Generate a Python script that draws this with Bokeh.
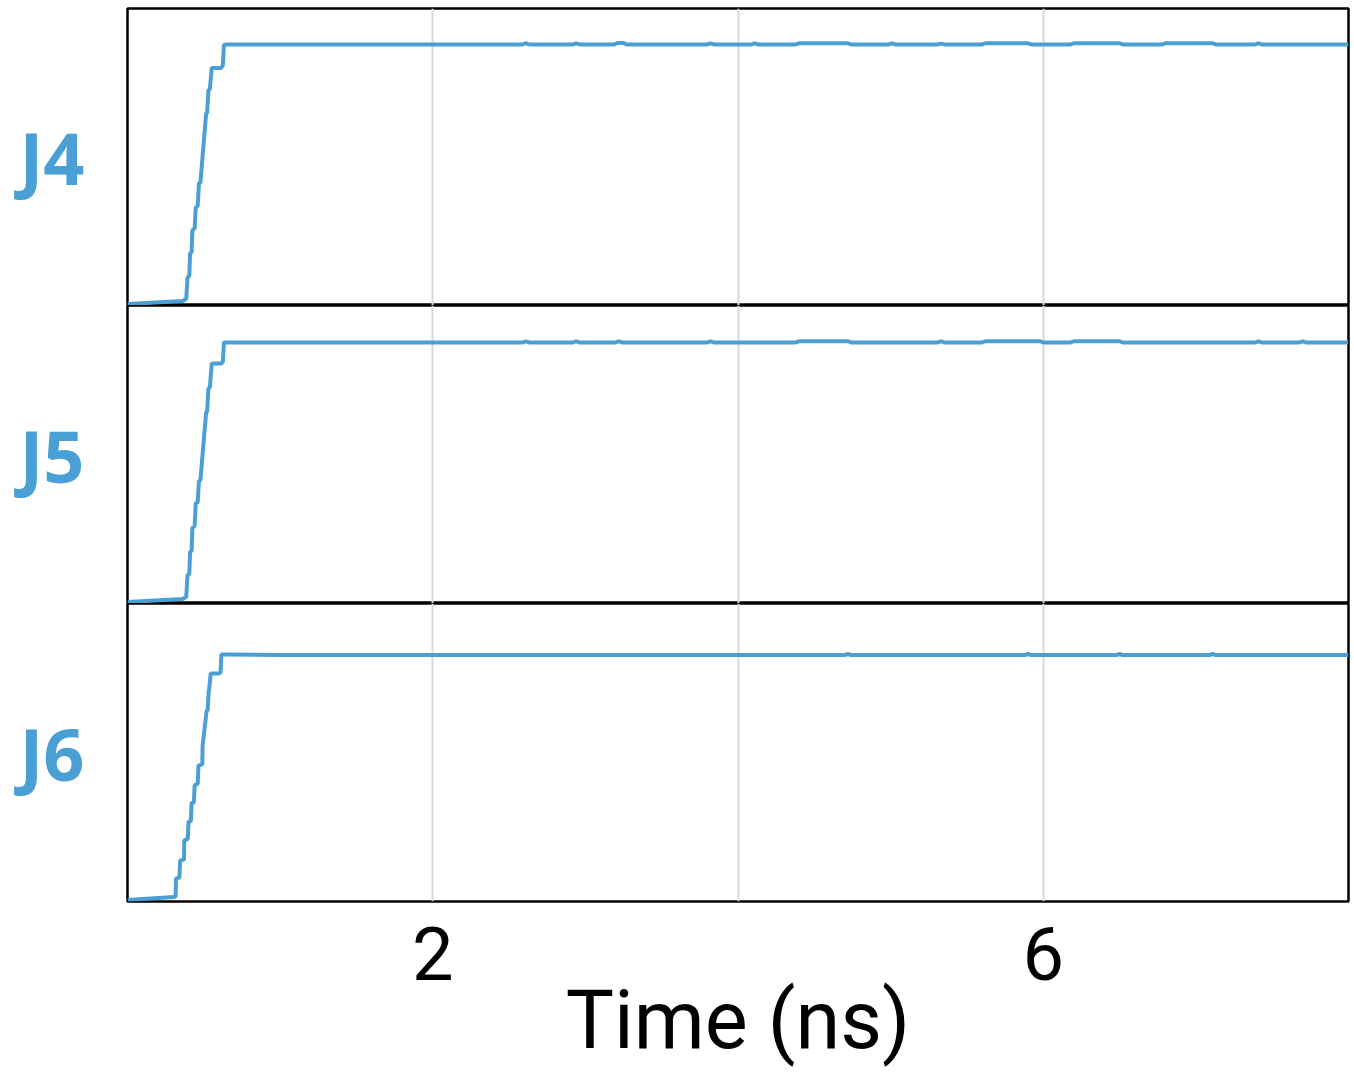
from bokeh.plotting import figure
from bokeh.layouts import column
from bokeh.models import Range1d, FixedTicker, Grid
from bokeh.embed import file_html
from bokeh.resources import INLINE

# ---- data (time in ns, signal normalised to panel height) ----
j4_t = [0, 0.36, 0.385, 0.393, 0.405, 0.41, 0.42, 0.425, 0.44, 0.447, 0.46, 0.468, 0.478,
        0.515, 0.522, 0.53, 0.54, 0.552, 0.615, 0.625, 0.632, 0.66,
        2.59, 2.61, 2.63, 2.92, 2.94, 2.96, 3.19, 3.21, 3.25, 3.27, 3.80, 3.82, 3.84,
        4.09, 4.11, 4.13, 4.38, 4.40, 4.72, 4.74, 4.99, 5.01, 5.03, 5.31, 5.33, 5.35,
        5.60, 5.62, 5.90, 5.92, 6.18, 6.20, 6.50, 6.52, 6.78, 6.80, 7.11, 7.13,
        7.39, 7.41, 7.43, 8.0]
j4_y = [0.005, 0.015, 0.022, 0.094, 0.10, 0.175, 0.18, 0.253, 0.26, 0.33, 0.335, 0.41, 0.415,
        0.646, 0.65, 0.724, 0.73, 0.80, 0.80, 0.81, 0.878, 0.879,
        0.879, 0.884, 0.879, 0.879, 0.883, 0.879, 0.879, 0.884, 0.884, 0.879, 0.879, 0.883, 0.879,
        0.879, 0.883, 0.879, 0.879, 0.883, 0.883, 0.879, 0.879, 0.883, 0.879, 0.879, 0.882, 0.879,
        0.879, 0.883, 0.883, 0.879, 0.879, 0.883, 0.883, 0.879, 0.879, 0.883, 0.883, 0.879,
        0.879, 0.883, 0.879, 0.879]

j5_t = [0, 0.36, 0.385, 0.393, 0.405, 0.41, 0.42, 0.425, 0.44, 0.447, 0.46, 0.468, 0.478,
        0.515, 0.522, 0.53, 0.54, 0.552, 0.615, 0.625, 0.632, 0.66,
        2.59, 2.61, 2.63, 2.92, 2.94, 2.96, 3.20, 3.22, 3.24, 3.80, 3.82, 3.84,
        4.38, 4.40, 4.72, 4.74, 5.31, 5.33, 5.35, 5.60, 5.62, 5.98, 6.00,
        6.18, 6.20, 6.50, 6.52, 7.39, 7.41, 7.43, 7.68, 7.70, 7.72, 8.0]
j5_y = [0.005, 0.015, 0.022, 0.094, 0.10, 0.172, 0.178, 0.253, 0.26, 0.336, 0.34, 0.41, 0.415,
        0.64, 0.645, 0.72, 0.727, 0.805, 0.805, 0.812, 0.876, 0.876,
        0.876, 0.880, 0.876, 0.876, 0.880, 0.876, 0.876, 0.880, 0.876, 0.876, 0.880, 0.876,
        0.876, 0.880, 0.880, 0.876, 0.876, 0.880, 0.876, 0.876, 0.880, 0.880, 0.876,
        0.876, 0.880, 0.880, 0.876, 0.876, 0.880, 0.876, 0.876, 0.880, 0.876, 0.876]

j6_t = [0, 0.30, 0.315, 0.318, 0.34, 0.345, 0.37, 0.372, 0.395, 0.40, 0.415, 0.42, 0.435,
        0.44, 0.46, 0.465, 0.49, 0.492, 0.492, 0.518, 0.525, 0.532, 0.535, 0.545, 0.60,
        0.61, 0.615, 0.66, 1.0,
        4.70, 4.72, 4.74, 5.88, 5.90, 5.92, 6.48, 6.50, 6.52, 7.09, 7.11, 7.13, 8.0]
j6_y = [0.005, 0.015, 0.017, 0.077, 0.08, 0.138, 0.14, 0.205, 0.21, 0.268, 0.27, 0.33, 0.333,
        0.39, 0.395, 0.456, 0.46, 0.523, 0.523, 0.638, 0.642, 0.705, 0.71, 0.765, 0.765,
        0.77, 0.829, 0.829, 0.827,
        0.827, 0.831, 0.827, 0.827, 0.831, 0.827, 0.827, 0.831, 0.827, 0.827, 0.831, 0.827, 0.827]

panel_labels = ["J4", "J5", "J6"]
x_ticks = [2, 4, 6]
x_tick_labels = {2: "2", 4: "", 6: "6"}
x_title = "Time (ns)"

BLUE = "#4a9fd4"
GRID = "#d9d9d9"
W = 1351


def make_panel(t, y, label, height, bottom_axis=False, top_border=0, bottom_border=0):
    p = figure(width=W, height=height, output_backend="svg", toolbar_location=None,
               x_range=Range1d(0, 8), y_range=Range1d(0, 1),
               x_axis_location="below" if bottom_axis else None,
               min_border_left=127, min_border_right=3,
               min_border_top=top_border, min_border_bottom=bottom_border)
    p.outline_line_color = "black"
    p.outline_line_width = 2.5
    p.background_fill_color = "white"
    p.border_fill_color = "white"
    p.ygrid.visible = False
    if bottom_axis:
        ax = p.xaxis[0]
        ax.ticker = FixedTicker(ticks=x_ticks)
        ax.major_label_overrides = x_tick_labels
        ax.major_tick_line_color = None
        ax.minor_tick_line_color = None
        ax.axis_line_color = None
        ax.major_label_text_font = "Roboto"
        ax.major_label_text_font_size = "74px"
        ax.major_label_text_color = "black"
        ax.major_label_standoff = 19
        ax.axis_label = x_title
        ax.axis_label_text_font = "Roboto"
        ax.axis_label_text_font_size = "81px"
        ax.axis_label_text_font_style = "normal"
        ax.axis_label_text_color = "black"
        ax.axis_label_standoff = -10
        p.xgrid.ticker = FixedTicker(ticks=x_ticks)
        p.xgrid.grid_line_color = GRID
        p.xgrid.grid_line_width = 2
    else:
        p.xgrid.visible = False
        p.add_layout(Grid(dimension=0, ticker=FixedTicker(ticks=x_ticks),
                          grid_line_color=GRID, grid_line_width=2))
    ya = p.yaxis[0]
    ya.ticker = FixedTicker(ticks=[0.5])
    ya.major_label_overrides = {0.5: label}
    ya.major_tick_line_color = None
    ya.minor_tick_line_color = None
    ya.axis_line_color = None
    ya.major_label_text_font = "Open Sans"
    ya.major_label_text_font_style = "bold"
    ya.major_label_text_font_size = "72px"
    ya.major_label_text_color = BLUE
    ya.major_label_standoff = 37
    p.line(t, y, line_color=BLUE, line_width=4)
    return p


p1 = make_panel(j4_t, j4_y, panel_labels[0], 305, top_border=8)
p2 = make_panel(j5_t, j5_y, panel_labels[1], 298)
p3 = make_panel(j6_t, j6_y, panel_labels[2], 468, bottom_axis=True, bottom_border=170)

layout = column(p1, p2, p3, spacing=0)
open("out.html", "w").write(file_html(layout, INLINE))
